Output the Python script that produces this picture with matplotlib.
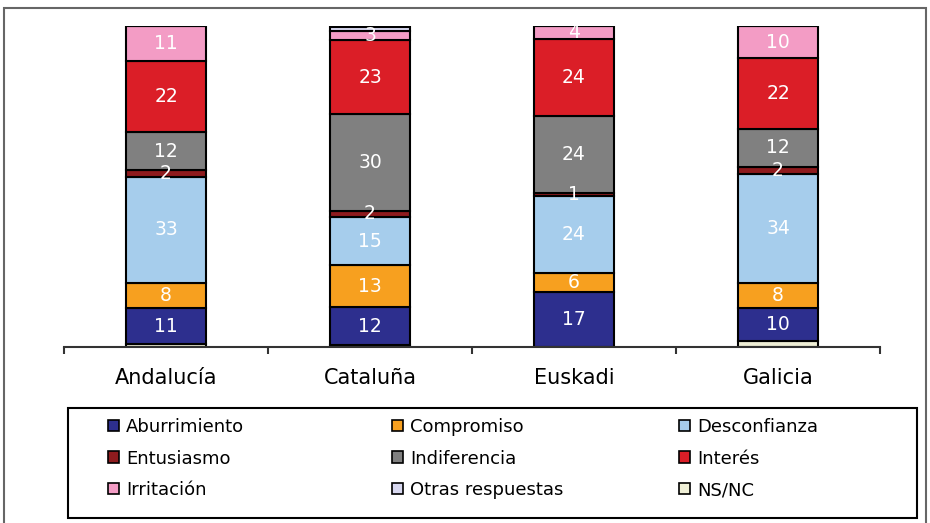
import matplotlib.pyplot as plt
from matplotlib.patches import Rectangle, Patch

regions = ["Andalucía", "Cataluña", "Euskadi", "Galicia"]

# stacked from the bottom up
ns_nc = [1, 0.5, 0, 2]
aburrimiento = [11, 12, 17, 10]
compromiso = [8, 13, 6, 8]
desconfianza = [33, 15, 24, 34]
entusiasmo = [2, 2, 1, 2]
indiferencia = [12, 30, 24, 12]
interes = [22, 23, 24, 22]
irritacion = [11, 3, 4, 10]
otras = [0, 1.2, 0, 0]

stack = [
    ("NS/NC", ns_nc, "#efefd6", False),
    ("Aburrimiento", aburrimiento, "#2d2f8e", True),
    ("Compromiso", compromiso, "#f7a01f", True),
    ("Desconfianza", desconfianza, "#a6cdec", True),
    ("Entusiasmo", entusiasmo, "#8e1b1e", True),
    ("Indiferencia", indiferencia, "#808080", True),
    ("Interés", interes, "#db1e27", True),
    ("Irritación", irritacion, "#f39cc5", True),
    ("Otras respuestas", otras, "#d8d8f0", False),
]
colors = {name: c for name, _, c, _ in stack}

W, H = 930, 523
fig = plt.figure(figsize=(9.3, 5.23), dpi=100)
ax = fig.add_axes([64 / W, 1 - 347 / H, (880 - 64) / W, (347 - 26) / H])

x = list(range(len(regions)))
bottom = [0.0] * len(regions)
for name, vals, col, show in stack:
    ax.bar(x, vals, width=0.39, bottom=bottom, color=col,
           edgecolor="black", linewidth=1.5, zorder=2)
    if show:
        for i, v in enumerate(vals):
            ax.text(i, bottom[i] + v / 2, f"{v:g}", ha="center", va="center",
                    color="white", fontsize=13.5, zorder=3)
    bottom = [b + v for b, v in zip(bottom, vals)]

ax.set_xlim(-0.5, 3.5)
ax.set_ylim(0, 100)
for s in ["left", "right", "top"]:
    ax.spines[s].set_visible(False)
ax.spines["bottom"].set_linewidth(1.5)
ax.spines["bottom"].set_color("#333333")
ax.set_yticks([])
ax.set_xticks(x)
ax.set_xticklabels(regions, fontsize=15, fontweight="medium")
ax.tick_params(axis="x", which="major", length=0, pad=15)
ax.set_xticks([-0.5, 0.5, 1.5, 2.5, 3.5], minor=True)
ax.tick_params(axis="x", which="minor", length=5, width=1.5, color="#333333",
               direction="out")

# legend box
fig.patches.append(Rectangle((68 / W, 1 - 518 / H), (917 - 68) / W, (518 - 408) / H,
                             transform=fig.transFigure, fill=False,
                             edgecolor="black", linewidth=1.5))
# outer frame
fig.patches.append(Rectangle((4 / W, -0.01), (926 - 4) / W, 1 - 8 / H + 0.01,
                             transform=fig.transFigure, fill=False,
                             edgecolor="#666666", linewidth=1.5))

legend_cols = [
    ["Aburrimiento", "Entusiasmo", "Irritación"],
    ["Compromiso", "Indiferencia", "Otras respuestas"],
    ["Desconfianza", "Interés", "NS/NC"],
]
col_x = [108, 392, 679]
for cx, names in zip(col_x, legend_cols):
    handles = [Patch(facecolor=colors[n], edgecolor="black", linewidth=1.2)
               for n in names]
    fig.legend(handles, names, loc="upper left",
               bbox_to_anchor=(cx / W, 1 - 418 / H), frameon=False,
               fontsize=13, handlelength=0.6, handleheight=0.6,
               handletextpad=0.4, labelspacing=0.75, borderpad=0,
               borderaxespad=0)

fig.savefig("out.png", dpi=100)
